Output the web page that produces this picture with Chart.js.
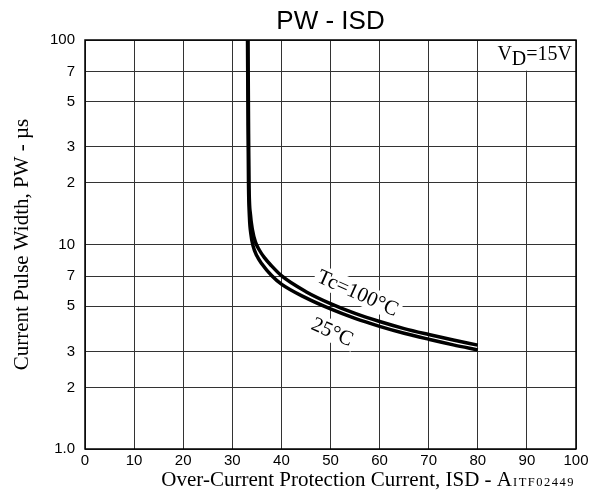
<!DOCTYPE html>
<html>
<head>
<meta charset="utf-8">
<script src="https://cdn.jsdelivr.net/npm/chart.js@4.4.0/dist/chart.umd.min.js"></script>
<style>
  html, body { margin: 0; padding: 0; background: #fff; }
  #wrap { width: 596px; height: 499px; }
</style>
</head>
<body>
<div id="wrap"><canvas id="pwChart" width="596" height="499"></canvas></div>
<script>
// axis ticks
const xTickValues = [0, 10, 20, 30, 40, 50, 60, 70, 80, 90, 100];
const yTickValues = [1, 2, 3, 5, 7, 10, 20, 30, 50, 70, 100];
const yTickLabels = ['1.0', '2', '3', '5', '7', '10', '2', '3', '5', '7', '100'];

// Tc = 25°C curve (ISD in A, PW in µs)
const isd25 = [33.1, 33.2, 33.3, 33.5, 33.8, 34.2, 35, 36, 38, 40, 45, 50, 55, 60, 65, 70, 75, 80];
const pw25  = [100, 40, 20, 13.5, 11.2, 9.9, 8.8, 8.05, 7.05, 6.4, 5.48, 4.84, 4.35, 3.98, 3.68, 3.44, 3.23, 3.05];

// Tc = 100°C curve
const isd100 = [33.2, 33.3, 33.4, 33.7, 34.1, 34.7, 35.5, 36.5, 38, 40, 45, 50, 55, 60, 65, 70, 75, 80];
const pw100  = [100, 40, 20, 14, 11.8, 10.3, 9.4, 8.65, 7.86, 7.04, 5.88, 5.14, 4.6, 4.2, 3.88, 3.63, 3.41, 3.22];

const SANS = '"Liberation Sans", Arial, sans-serif';
const SERIF = '"Liberation Serif", "Times New Roman", serif';

function toPoints(xs, ys) {
    return xs.map((x, i) => ({ x: x, y: ys[i] }));
}

// curve labels, placed in data coordinates
const curveLabels = [
    { text: 'Tc=100°C', x: 55.6, y: 5.8, angle: 24 },
    { text: '25°C', x: 50.4, y: 3.75, angle: 24 }
];

function labelBox(ctx, chart, lab, fill) {
    const xs = chart.scales.x, ys = chart.scales.y;
    const px = xs.getPixelForValue(lab.x);
    const py = ys.getPixelForValue(lab.y);
    ctx.save();
    ctx.translate(px, py);
    ctx.rotate(lab.angle * Math.PI / 180);
    ctx.font = '21px ' + SERIF;
    const w = ctx.measureText(lab.text).width;
    if (fill) {
        ctx.fillStyle = '#fff';
        ctx.fillRect(-w / 2 - 3, -11, w + 6, 22);
    } else {
        ctx.fillStyle = '#000';
        ctx.textAlign = 'center';
        ctx.textBaseline = 'middle';
        ctx.fillText(lab.text, 0, 1);
    }
    ctx.restore();
}

const decor = {
    id: 'decor',
    beforeDatasetsDraw(chart) {
        const ctx = chart.ctx, a = chart.chartArea;
        // white cell behind the VD note
        ctx.save();
        ctx.fillStyle = '#fff';
        ctx.fillRect(488, a.top + 1, a.right - 489, chart.scales.y.getPixelForValue(70) - a.top - 2);
        ctx.restore();
        curveLabels.forEach(l => labelBox(ctx, chart, l, true));
    },
    afterDatasetsDraw(chart) {
        const ctx = chart.ctx, a = chart.chartArea;
        curveLabels.forEach(l => labelBox(ctx, chart, l, false));

        // frame
        ctx.save();
        ctx.strokeStyle = '#000';
        ctx.lineWidth = 1.5;
        ctx.strokeRect(a.left, a.top, a.right - a.left, a.bottom - a.top);

        // VD=15V
        ctx.fillStyle = '#000';
        ctx.font = '20px ' + SERIF;
        ctx.textBaseline = 'alphabetic';
        let x = a.right - 4 - ctx.measureText('VD=15V').width;
        ctx.fillText('V', x, a.top + 20);
        x += ctx.measureText('V').width;
        ctx.fillText('D', x, a.top + 25);
        x += ctx.measureText('D').width;
        ctx.fillText('=15V', x, a.top + 20);

        // title
        ctx.font = '26px ' + SANS;
        ctx.textAlign = 'center';
        ctx.fillText('PW - ISD', (a.left + a.right) / 2, 29);

        // x axis title
        ctx.textAlign = 'left';
        ctx.font = '21px ' + SERIF;
        const main = 'Over-Current Protection Current, ISD - A';
        const mw = ctx.measureText(main).width;
        ctx.fillText(main, 512 - mw, 486);
        ctx.font = '12.5px ' + SERIF;
        ctx.letterSpacing = '1.5px';
        ctx.fillText('ITF02449', 513, 486);
        ctx.letterSpacing = '0px';

        // y axis title
        ctx.translate(22, (a.top + a.bottom) / 2);
        ctx.rotate(-Math.PI / 2);
        ctx.font = '21px ' + SERIF;
        ctx.textAlign = 'center';
        ctx.textBaseline = 'middle';
        ctx.fillText('Current Pulse Width, PW - µs', 0, 0);
        ctx.restore();
    }
};

new Chart(document.getElementById('pwChart'), {
    type: 'line',
    data: {
        datasets: [
            {
                label: 'Tc=25°C',
                data: toPoints(isd25, pw25),
                borderColor: '#000',
                borderWidth: 3.5,
                pointRadius: 0,
                fill: false,
                cubicInterpolationMode: 'monotone'
            },
            {
                label: 'Tc=100°C',
                data: toPoints(isd100, pw100),
                borderColor: '#000',
                borderWidth: 3.5,
                pointRadius: 0,
                fill: false,
                cubicInterpolationMode: 'monotone'
            }
        ]
    },
    options: {
        responsive: false,
        animation: false,
        devicePixelRatio: 1,
        layout: { padding: { top: 40, right: 20, left: 0, bottom: 0 } },
        plugins: {
            legend: { display: false },
            title: { display: false },
            tooltip: { enabled: false }
        },
        scales: {
            x: {
                type: 'linear',
                min: 0,
                max: 100,
                afterBuildTicks: s => { s.ticks = xTickValues.map(v => ({ value: v })); },
                afterFit: s => { s.height = 50; },
                ticks: {
                    color: '#000',
                    font: { family: SANS, size: 15 },
                    padding: 3,
                    maxRotation: 0
                },
                grid: { color: '#333', lineWidth: 1, drawTicks: false },
                border: { display: false }
            },
            y: {
                type: 'logarithmic',
                min: 1,
                max: 100,
                afterBuildTicks: s => { s.ticks = yTickValues.map(v => ({ value: v })); },
                afterFit: s => { s.width = 85; },
                ticks: {
                    color: '#000',
                    font: { family: SANS, size: 15 },
                    padding: 10,
                    callback: v => yTickLabels[yTickValues.indexOf(v)]
                },
                grid: { color: '#333', lineWidth: 1, drawTicks: false },
                border: { display: false }
            }
        }
    },
    plugins: [decor]
});
</script>
</body>
</html>
